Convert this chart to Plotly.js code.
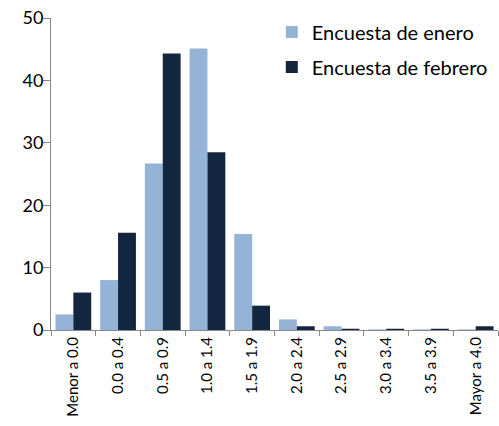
<!DOCTYPE html>
<html><head><meta charset="utf-8">
<script src="https://cdn.plot.ly/plotly-3.0.1.min.js"></script>
<style>html,body{margin:0;padding:0;background:#fff;}#chart{width:499px;height:426px;}</style>
</head><body><div id="chart"></div>
<script>
const categories = ["Menor a 0.0","0.0 a 0.4","0.5 a 0.9","1.0 a 1.4","1.5 a 1.9","2.0 a 2.4","2.5 a 2.9","3.0 a 3.4","3.5 a 3.9","Mayor a 4.0"];
const enero = [2.5, 8.0, 26.7, 45.1, 15.4, 1.7, 0.6, 0.1, 0.1, 0.1];
const febrero = [6.0, 15.6, 44.3, 28.5, 3.9, 0.6, 0.2, 0.2, 0.2, 0.6];
const seriesNames = ["Encuesta de enero","Encuesta de febrero"];
const yTicks = [0,10,20,30,40,50];

const font = "Lato, 'Open Sans', sans-serif";
const traces = [
  {type:"bar", x:categories, y:enero, name:seriesNames[0], legendgroup:"a",
   marker:{color:"#95B3D7", line:{width:0}}},
  {type:"bar", x:categories, y:febrero, name:seriesNames[1], legendgroup:"b",
   marker:{color:"#12263F", line:{width:0}}}
];
const layout = {
  width:499, height:426,
  margin:{l:51, r:1, t:18, b:96},
  paper_bgcolor:"#fff", plot_bgcolor:"#fff",
  barmode:"group", bargap:0.2, bargroupgap:0,
  font:{family:font, color:"#000"},
  xaxis:{type:"category", showline:true, linecolor:"#888", linewidth:1,
    ticks:"outside", tickson:"boundaries", ticklen:5, tickcolor:"#888",
    tickangle:-90, tickfont:{size:15, family:font}, showgrid:false, zeroline:false},
  yaxis:{range:[0,50], tickvals:yTicks, showline:true, linecolor:"#888", linewidth:1,
    ticks:"outside", ticklen:7, tickcolor:"#888", tickfont:{size:18, family:font},
    ticklabelstandoff:-4,
    showgrid:false, zeroline:false},
  legend:{x:0.494, y:1.018, xanchor:"left", yanchor:"top", font:{size:20, family:font},
    bgcolor:"rgba(0,0,0,0)", tracegroupgap:6, traceorder:"grouped"},
  showlegend:true
};
Plotly.newPlot("chart", traces, layout, {staticPlot:true, displayModeBar:false});
</script></body></html>
